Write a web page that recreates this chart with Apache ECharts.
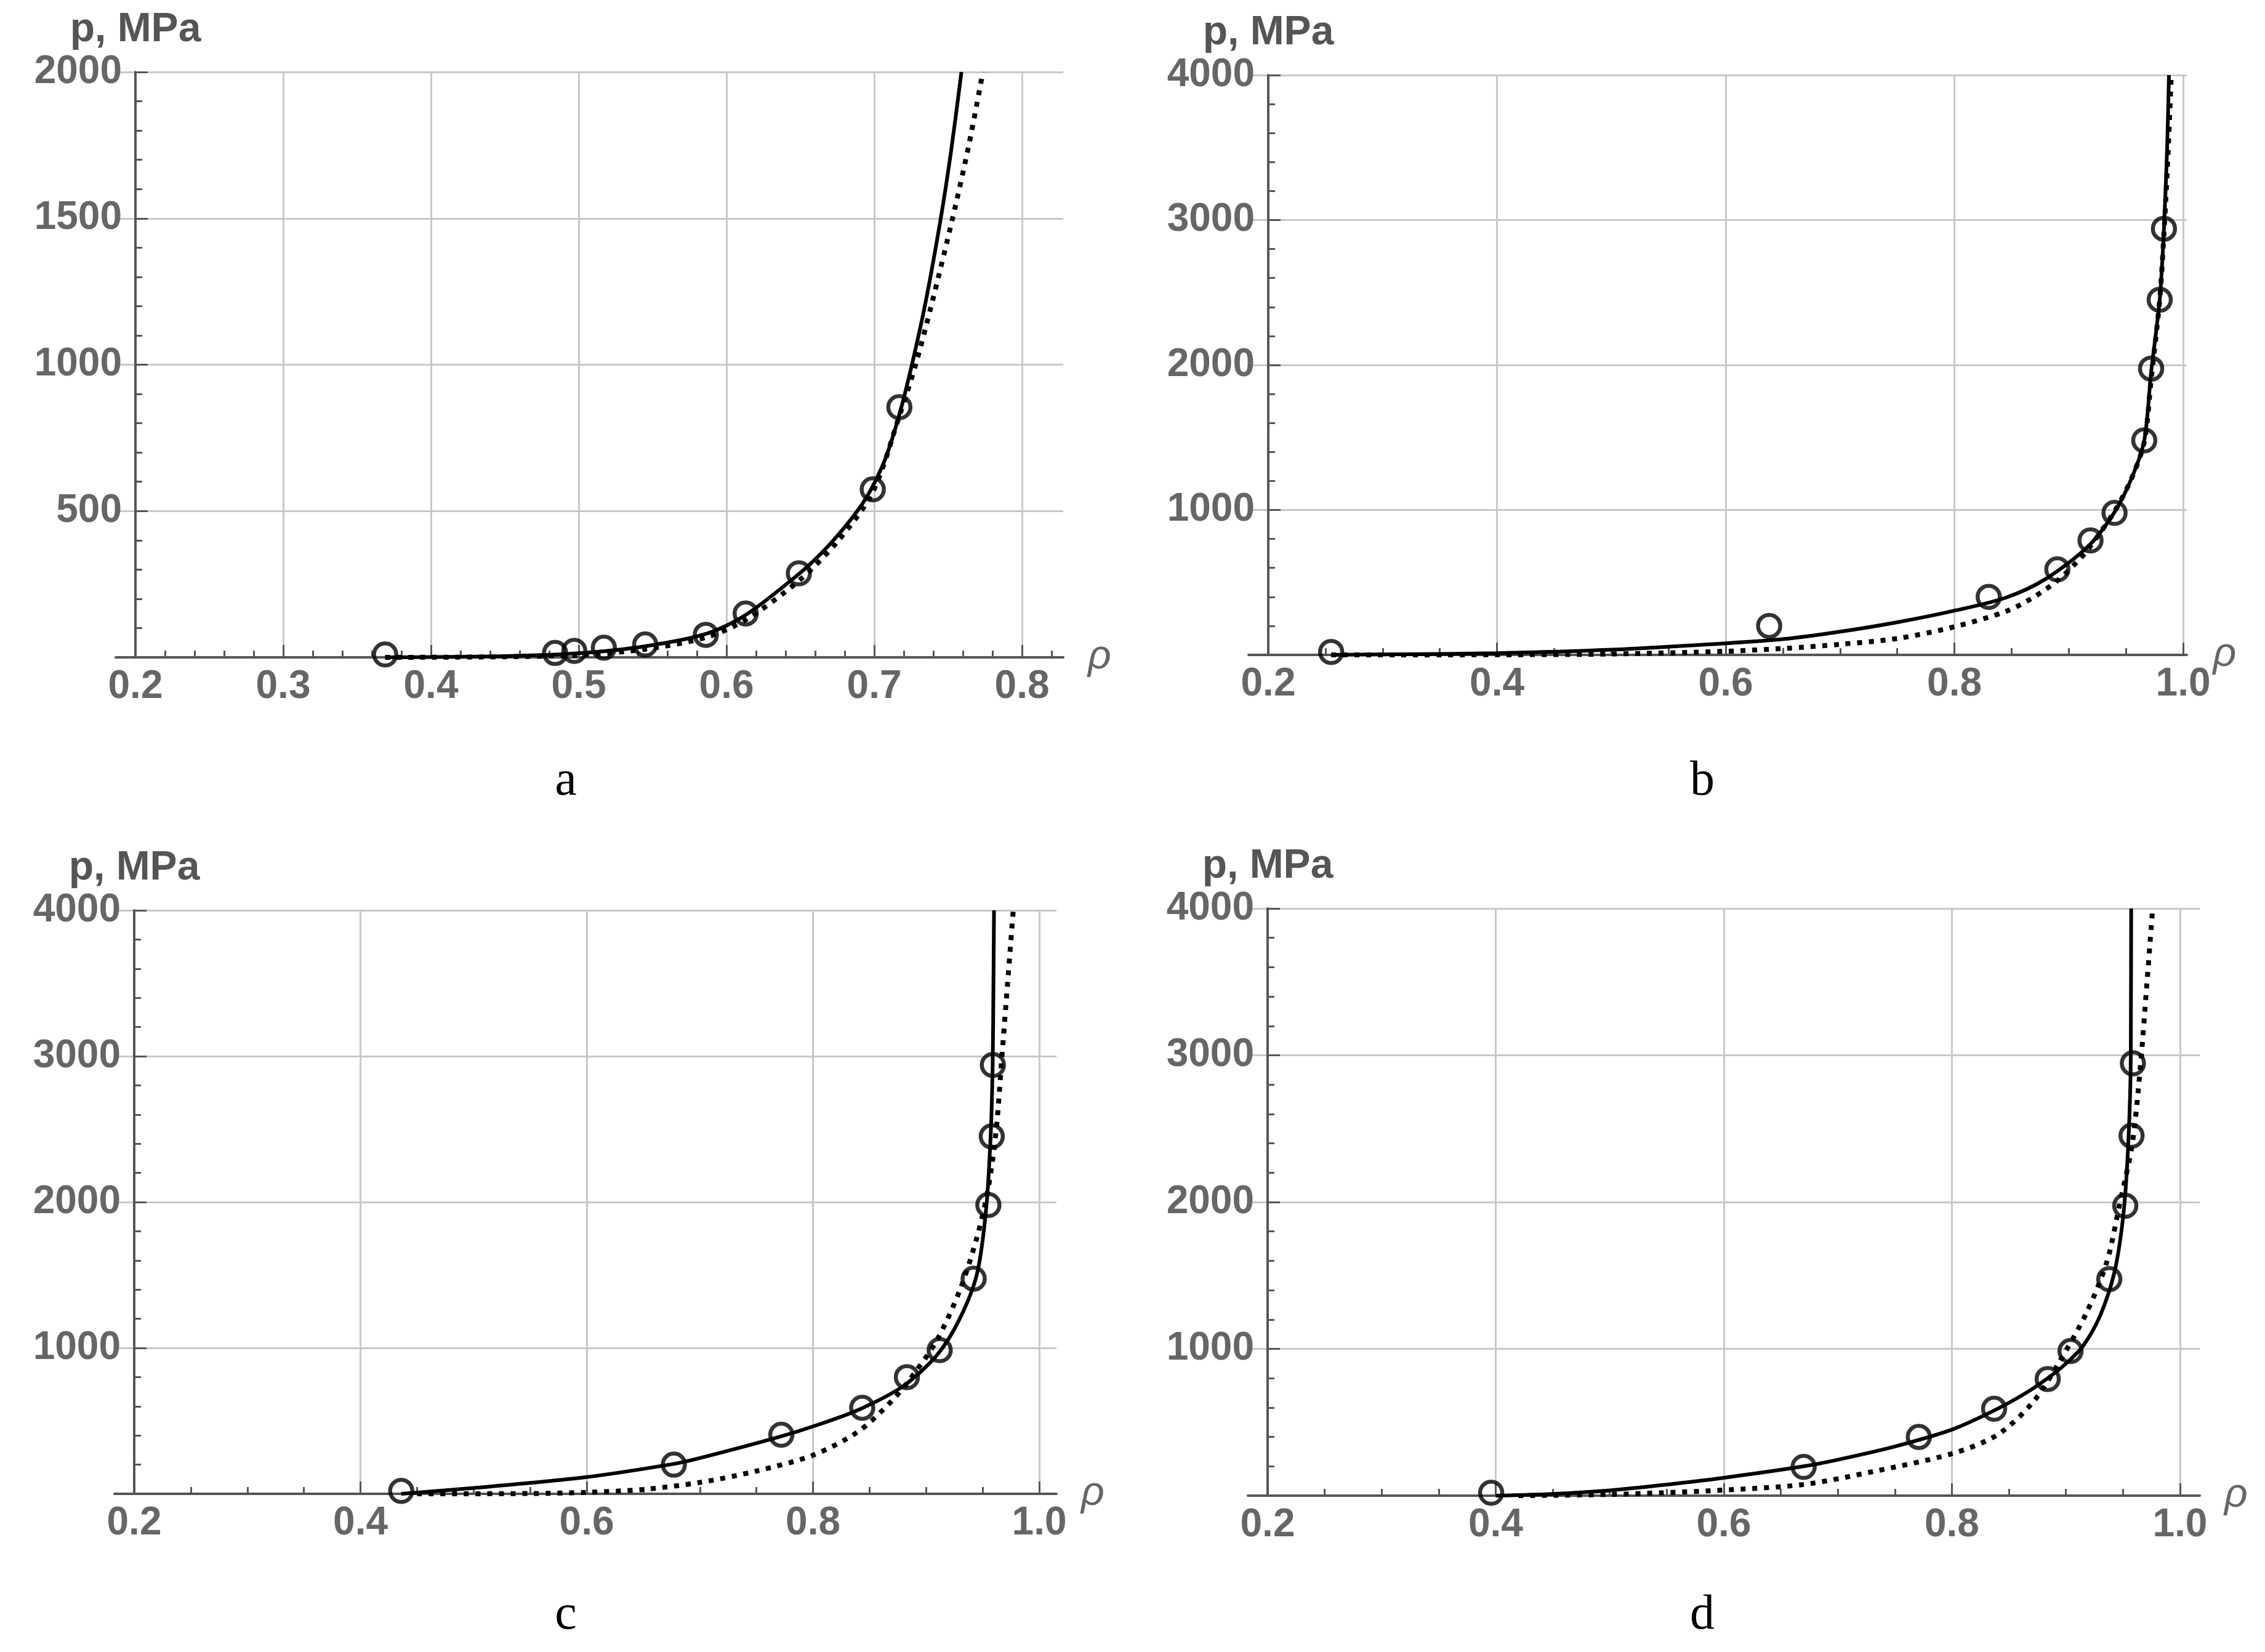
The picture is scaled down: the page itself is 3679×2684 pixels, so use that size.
<!DOCTYPE html>
<html>
<head>
<meta charset="utf-8">
<title>p(ρ) compaction curves</title>
<script src="https://cdn.jsdelivr.net/npm/echarts@6/dist/echarts.min.js"></script>
<style>
  html, body { margin: 0; padding: 0; background: #fff; }
  #chart { width: 3679px; height: 2684px; }
</style>
</head>
<body>
<div id="chart"></div>
<script>
const rhoA = [0.369, 0.484, 0.497, 0.517, 0.545, 0.586, 0.613, 0.649, 0.699, 0.717];
const pA   = [10, 15, 22, 33, 44, 77, 150, 287, 574, 855];
const rhoB = [0.255, 0.638, 0.830, 0.890, 0.919, 0.940, 0.966, 0.972, 0.9795, 0.9832];
const pB   = [20, 200, 400, 590, 790, 980, 1480, 1975, 2450, 2940];
const rhoC = [0.436, 0.677, 0.772, 0.8435, 0.883, 0.912, 0.942, 0.955, 0.958, 0.959];
const pC   = [20, 200, 405, 590, 800, 985, 1475, 1980, 2450, 2940];
const rhoD = [0.396, 0.670, 0.771, 0.837, 0.884, 0.904, 0.938, 0.952, 0.9575, 0.9587];
const pD   = [20, 196, 400, 592, 795, 985, 1475, 1975, 2452, 2945];

// solid curves [rho, p]
const solidA = [[0.369, 0], [0.45, 4], [0.5, 14], [0.545, 38], [0.586, 80], [0.613, 145], [0.649, 285],
  [0.665, 360], [0.68, 445], [0.692, 525], [0.70, 595], [0.708, 685], [0.717, 830], [0.7255, 1000],
  [0.735, 1220], [0.745, 1500], [0.752, 1730], [0.759, 2000]];
const solidB = [[0.255, 0], [0.3, 3], [0.4, 12], [0.5, 36], [0.6, 80], [0.652, 110], [0.7, 160], [0.75, 225],
  [0.8, 305], [0.845, 395], [0.88, 525], [0.917, 750], [0.94, 985], [0.955, 1220], [0.966, 1480],
  [0.972, 1950], [0.9795, 2450], [0.9832, 2940], [0.986, 3500], [0.9876, 4000]];
const solidC = [[0.436, 0], [0.5, 40], [0.6, 115], [0.677, 205], [0.7, 245], [0.77, 390], [0.8, 462],
  [0.84, 575], [0.88, 740], [0.91, 955], [0.93, 1205], [0.945, 1510], [0.953, 1950], [0.957, 2450],
  [0.9588, 2940], [0.9595, 3500], [0.96, 4000]];
const solidD = [[0.40, 0], [0.45, 12], [0.5, 36], [0.546, 72], [0.6, 122], [0.67, 200], [0.7, 245],
  [0.75, 335], [0.8, 450], [0.837, 580], [0.865, 700], [0.884, 800], [0.9, 900], [0.915, 1020], [0.93, 1227],
  [0.9425, 1522], [0.95, 1890], [0.954, 2298], [0.9566, 2850], [0.957, 3400], [0.9572, 4000]];

// dotted curves [rho, p]
const dottedA = [[0.369, 0], [0.45, 2], [0.5, 8], [0.545, 28], [0.586, 68], [0.613, 128], [0.649, 262],
  [0.675, 395], [0.699, 565], [0.717, 825], [0.728, 1000], [0.7385, 1200], [0.753, 1500], [0.764, 1750],
  [0.7735, 2000]];
const dottedB = [[0.255, 0], [0.4, 1], [0.5, 6], [0.6, 25], [0.652, 45], [0.7, 73], [0.75, 113], [0.8, 194],
  [0.845, 300], [0.868, 392], [0.89, 512], [0.907, 640], [0.917, 730], [0.94, 990], [0.955, 1220],
  [0.966, 1470], [0.972, 1900], [0.9795, 2450], [0.9835, 2950], [0.987, 3500], [0.9896, 4000]];
const dottedC = [[0.45, 0], [0.55, 2], [0.6, 10], [0.65, 30], [0.7, 78], [0.75, 156], [0.8, 265],
  [0.84, 427], [0.87, 640], [0.89, 830], [0.91, 1060], [0.93, 1400], [0.945, 1760], [0.955, 2100],
  [0.962, 2500], [0.967, 3000], [0.972, 3500], [0.977, 4000]];
const dottedD = [[0.42, 0], [0.5, 8], [0.546, 20], [0.6, 38], [0.67, 76], [0.732, 166], [0.8, 286],
  [0.84, 415], [0.871, 636], [0.893, 895], [0.918, 1246], [0.936, 1596], [0.947, 1984], [0.958, 2390],
  [0.965, 2900], [0.971, 3490], [0.976, 4000]];

// tick labels
const xTicksA = [0.2, 0.3, 0.4, 0.5, 0.6, 0.7, 0.8];
const xTicksBCD = [0.2, 0.4, 0.6, 0.8, 1.0];
const yTicksA = [0, 500, 1000, 1500, 2000];
const yTicksBCD = [0, 1000, 2000, 3000, 4000];
const letters = ['a', 'b', 'c', 'd'];

const AXIS = '#555';
const GRID = '#c8c8c8';
const LABEL = '#666';
const SANS = 'Liberation Sans, Arial, sans-serif';

// panel frames (pixels) and x range incl. the small stub left of the y axis
const panels = [
  { left: 188, top: 117, width: 1539, height: 951, xMin: 0.18667, xMax: 0.8279, xTicks: xTicksA, minorN: 5,
    yTicks: yTicksA, rho: rhoA, p: pA, solid: solidA, dotted: dottedA, cap: [919, 1270] },
  { left: 2028, top: 122, width: 1524, height: 942, xMin: 0.18277, xMax: 1.0032, xTicks: xTicksBCD, minorN: 4,
    yTicks: yTicksBCD, rho: rhoB, p: pB, solid: solidB, dotted: dottedB, cap: [2765, 1270] },
  { left: 186, top: 1479, width: 1530, height: 948, xMin: 0.18258, xMax: 1.0152, xTicks: xTicksBCD, minorN: 4,
    yTicks: yTicksBCD, rho: rhoC, p: pC, solid: solidC, dotted: dottedC, cap: [919, 2625] },
  { left: 2027, top: 1476, width: 1546, height: 954, xMin: 0.18273, xMax: 1.0173, xTicks: xTicksBCD, minorN: 4,
    yTicks: yTicksBCD, rho: rhoD, p: pD, solid: solidD, dotted: dottedD, cap: [2765, 2625] }
];

function minorTicks(major, n, max) {
  const out = [];
  const step = major[1] - major[0];
  for (let i = 0; i < major.length; i++) {
    for (let k = 1; k < n; k++) {
      const v = +(major[i] + k * step / n).toFixed(4);
      if (v < max) out.push(v);
    }
  }
  return out;
}

const grid = [], xAxis = [], yAxis = [], series = [], graphic = [];

panels.forEach((pn, i) => {
  grid.push({ left: pn.left, top: pn.top, width: pn.width, height: pn.height });

  xAxis.push({
    type: 'value', gridIndex: i, min: pn.xMin, max: pn.xMax, position: 'bottom',
    name: 'ρ', nameLocation: 'end', nameGap: 40,
    nameTextStyle: { fontSize: 66, fontStyle: 'italic', color: LABEL, fontFamily: SANS },
    axisLine: { lineStyle: { color: AXIS, width: 4 } },
    axisTick: { inside: true, length: 20, customValues: pn.xTicks, lineStyle: { color: AXIS, width: 3 } },
    axisLabel: {
      customValues: pn.xTicks, margin: 16, fontSize: 64, fontWeight: 'bold', color: LABEL, fontFamily: SANS,
      formatter: v => v.toFixed(1)
    },
    splitLine: { show: true, lineStyle: { color: GRID, width: 3 } }
  });
  // second x axis only carries the minor ticks
  xAxis.push({
    type: 'value', gridIndex: i, min: pn.xMin, max: pn.xMax, position: 'bottom',
    axisLine: { show: false, onZero: false },
    axisTick: { inside: true, length: 11, customValues: minorTicks(pn.xTicks, pn.minorN, pn.xMax),
      lineStyle: { color: AXIS, width: 3 } },
    axisLabel: { show: false },
    splitLine: { show: false }
  });

  const yMax = pn.yTicks[pn.yTicks.length - 1];
  yAxis.push({
    type: 'value', gridIndex: i, min: 0, max: yMax, interval: pn.yTicks[1], offset: -32,
    name: 'p, MPa', nameLocation: 'end', nameGap: 68,
    nameTextStyle: { fontSize: 66, fontWeight: 'bold', color: AXIS, fontFamily: SANS,
      align: 'center', verticalAlign: 'middle' },
    axisLine: { show: true, lineStyle: { color: AXIS, width: 4 } },
    axisTick: { inside: true, length: 20, lineStyle: { color: AXIS, width: 3 } },
    minorTick: { show: true, splitNumber: 5, length: 11, lineStyle: { color: AXIS, width: 3 } },
    axisLabel: { margin: 22, fontSize: 64, fontWeight: 'bold', color: LABEL, fontFamily: SANS,
      showMinLabel: false, formatter: v => String(v) },
    splitLine: { show: true, lineStyle: { color: GRID, width: 3 } }
  });

  series.push({
    type: 'line', xAxisIndex: 2 * i, yAxisIndex: i, data: pn.solid, smooth: 0.3,
    showSymbol: false, lineStyle: { color: '#000', width: 6 }, z: 3
  });
  series.push({
    type: 'line', xAxisIndex: 2 * i, yAxisIndex: i, data: pn.dotted, smooth: 0.3,
    showSymbol: false, lineStyle: { color: '#000', width: 8, type: [8, 11], cap: 'butt' }, z: 3
  });
  series.push({
    type: 'scatter', xAxisIndex: 2 * i, yAxisIndex: i,
    data: pn.rho.map((r, k) => [r, pn.p[k]]),
    symbol: 'circle', symbolSize: 36,
    itemStyle: { color: 'rgba(0,0,0,0)', borderColor: '#000', borderWidth: 6.5 }, z: 4
  });

  graphic.push({
    type: 'text', x: pn.cap[0], y: pn.cap[1],
    style: { text: letters[i], fontSize: 80, fontFamily: 'Liberation Serif, Times New Roman, serif',
      fill: '#000', align: 'center', verticalAlign: 'middle' }
  });
});

const chart = echarts.init(document.getElementById('chart'));
chart.setOption({
  backgroundColor: '#fff',
  animation: false,
  grid, xAxis, yAxis, series, graphic
});
</script>
</body>
</html>
